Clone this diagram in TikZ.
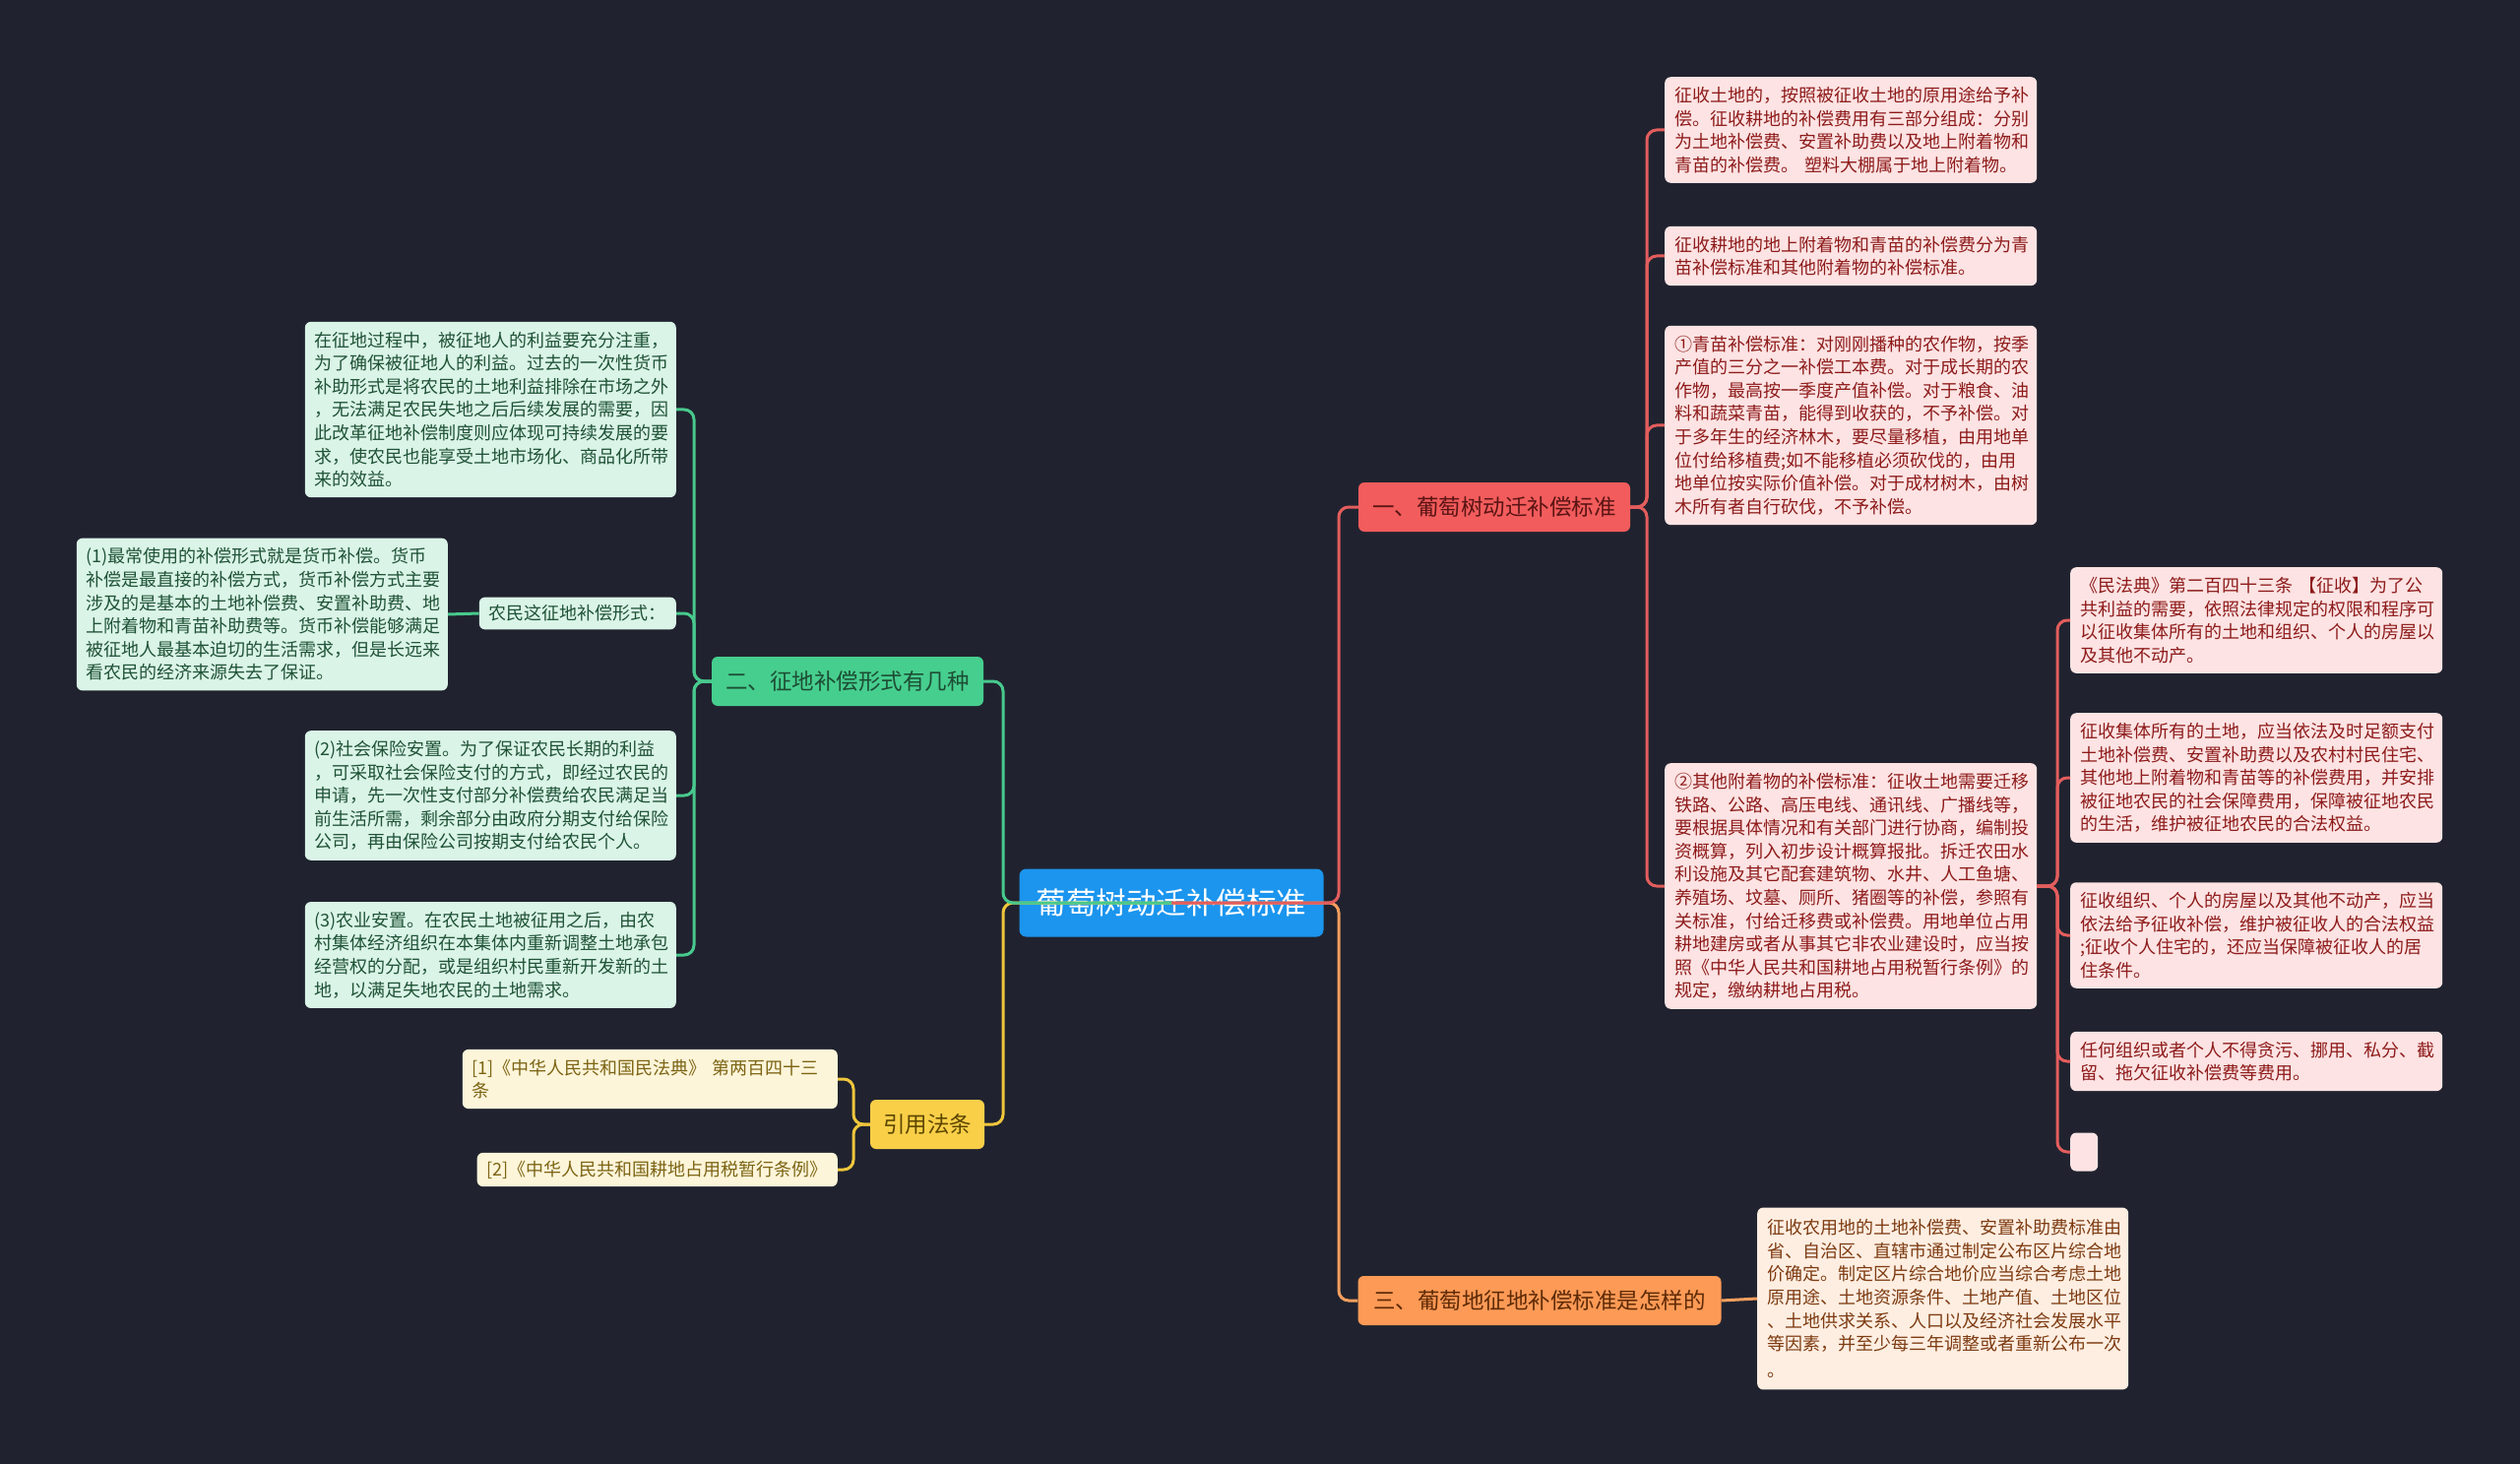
\documentclass[tikz,border=0pt]{standalone}
\usepackage{fontspec}
\setmainfont{Noto Sans CJK SC}
\definecolor{bgc}{HTML}{20232F}
\definecolor{rootc}{HTML}{1B95EE}
\definecolor{redm}{HTML}{F25C5C}
\definecolor{redmt}{HTML}{5A1414}
\definecolor{redf}{HTML}{FDE3E3}
\definecolor{redt}{HTML}{8E1B1B}
\definecolor{redl}{HTML}{E35D5D}
\definecolor{grem}{HTML}{46CE8E}
\definecolor{gremt}{HTML}{1D4D34}
\definecolor{gref}{HTML}{DAF4E7}
\definecolor{gret}{HTML}{1F5236}
\definecolor{grel}{HTML}{48C98D}
\definecolor{yelm}{HTML}{F9CF48}
\definecolor{yelmt}{HTML}{5B4500}
\definecolor{yelf}{HTML}{FDF5D9}
\definecolor{yelt}{HTML}{7C6414}
\definecolor{yell}{HTML}{EFC63C}
\definecolor{orm}{HTML}{FD9A56}
\definecolor{ormt}{HTML}{5E2A06}
\definecolor{orf}{HTML}{FEEEE1}
\definecolor{ort}{HTML}{7D3B12}
\definecolor{orl}{HTML}{F59E5E}
\begin{document}
\begin{tikzpicture}[x=1pt, y=-1pt,
    rootbox/.style={rounded corners=7pt, fill=rootc, text=white, minimum width=309pt, minimum height=69pt, font=\fontsize{30.5}{32}\selectfont},
    mainbox/.style={rounded corners=6pt, minimum height=50pt, inner xsep=13pt, font=\fontsize{22.5}{24}\selectfont},
    leaf/.style={rounded corners=6pt, inner xsep=10pt, inner ysep=10pt, align=left, font=\fontsize{18}{23.6}\selectfont},
    redleaf/.style={leaf, fill=redf, text=redt},
    greleaf/.style={leaf, fill=gref, text=gret},
    yelleaf/.style={leaf, fill=yelf, text=yelt},
    orleaf/.style={leaf, fill=orf, text=ort},
    link/.style={line width=3pt, rounded corners=10pt},
    redlink/.style={link, draw=redl},
    grelink/.style={link, draw=grel},
    yellink/.style={link, draw=yell},
    orlink/.style={link, draw=orl}]
    % 1. Nền
    \fill[bgc] (0,0) rectangle (2560,1487);
    \useasboundingbox (0,0) rectangle (2560,1487);

    % 2. Nút gốc và các nhánh chính
    \node[rootbox] (root) at (1190,917) {葡萄树动迁补偿标准};
    \node[mainbox, fill=redm, text=redmt, minimum width=276pt] (yi) at (1518,515) {一、葡萄树动迁补偿标准};
    \node[mainbox, fill=orm, text=ormt, minimum width=369pt] (san) at (1564,1321) {三、葡萄地征地补偿标准是怎样的};
    \node[mainbox, fill=grem, text=gremt, minimum width=276pt] (er) at (861,692) {二、征地补偿形式有几种};
    \node[mainbox, fill=yelm, text=yelmt, minimum width=114pt] (yinyong) at (942,1142) {引用法条};

    % 3. Nhánh một
    \node[redleaf, text width=358pt, anchor=west] (yiA) at (1691,132) {征收土地的，按照被征收土地的原用途给予补\\偿。征收耕地的补偿费用有三部分组成：分别\\为土地补偿费、安置补助费以及地上附着物和\\青苗的补偿费。 塑料大棚属于地上附着物。};
    \node[redleaf, text width=358pt, anchor=west] (yiB) at (1691,260) {征收耕地的地上附着物和青苗的补偿费分为青\\苗补偿标准和其他附着物的补偿标准。};
    \node[redleaf, text width=358pt, anchor=west] (yiC) at (1691,432) {①青苗补偿标准：对刚刚播种的农作物，按季\\产值的三分之一补偿工本费。对于成长期的农\\作物，最高按一季度产值补偿。对于粮食、油\\料和蔬菜青苗，能得到收获的，不予补偿。对\\于多年生的经济林木，要尽量移植，由用地单\\位付给移植费;如不能移植必须砍伐的，由用\\地单位按实际价值补偿。对于成材树木，由树\\木所有者自行砍伐，不予补偿。};
    \node[redleaf, text width=358pt, anchor=west] (yiD) at (1691,900) {②其他附着物的补偿标准：征收土地需要迁移\\铁路、公路、高压电线、通讯线、广播线等，\\要根据具体情况和有关部门进行协商，编制投\\资概算，列入初步设计概算报批。拆迁农田水\\利设施及其它配套建筑物、水井、人工鱼塘、\\养殖场、坟墓、厕所、猪圈等的补偿，参照有\\关标准，付给迁移费或补偿费。用地单位占用\\耕地建房或者从事其它非农业建设时，应当按\\照《中华人民共和国耕地占用税暂行条例》的\\规定，缴纳耕地占用税。};
    \node[redleaf, text width=358pt, anchor=west] (yiD1) at (2103,630) {《民法典》第二百四十三条 【征收】为了公\\共利益的需要，依照法律规定的权限和程序可\\以征收集体所有的土地和组织、个人的房屋以\\及其他不动产。};
    \node[redleaf, text width=358pt, anchor=west] (yiD2) at (2103,790) {征收集体所有的土地，应当依法及时足额支付\\土地补偿费、安置补助费以及农村村民住宅、\\其他地上附着物和青苗等的补偿费用，并安排\\被征地农民的社会保障费用，保障被征地农民\\的生活，维护被征地农民的合法权益。};
    \node[redleaf, text width=358pt, anchor=west] (yiD3) at (2103,950) {征收组织、个人的房屋以及其他不动产，应当\\依法给予征收补偿，维护被征收人的合法权益\\;征收个人住宅的，还应当保障被征收人的居\\住条件。};
    \node[redleaf, text width=358pt, anchor=west] (yiD4) at (2103,1078) {任何组织或者个人不得贪污、挪用、私分、截\\留、拖欠征收补偿费等费用。};
    \node[redleaf, minimum width=28pt, minimum height=39pt, inner sep=0pt, anchor=west] (yiD5) at (2103,1170) {};

    % 4. Nhánh ba
    \node[orleaf, text width=357pt, inner ysep=12pt, anchor=west] (sanA) at (1785,1319) {征收农用地的土地补偿费、安置补助费标准由\\省、自治区、直辖市通过制定公布区片综合地\\价确定。制定区片综合地价应当综合考虑土地\\原用途、土地资源条件、土地产值、土地区位\\、土地供求关系、人口以及经济社会发展水平\\等因素，并至少每三年调整或者重新公布一次\\[3pt]。};

    % 5. Nhánh hai
    \node[greleaf, text width=357pt, anchor=east] (erA) at (687,416) {在征地过程中，被征地人的利益要充分注重，\\为了确保被征地人的利益。过去的一次性货币\\补助形式是将农民的土地利益排除在市场之外\\，无法满足农民失地之后后续发展的需要，因\\此改革征地补偿制度则应体现可持续发展的要\\求，使农民也能享受土地市场化、商品化所带\\来的效益。};
    \node[greleaf, anchor=east, inner ysep=8pt] (erB) at (687,623) {农民这征地补偿形式：};
    \node[greleaf, text width=357pt, anchor=east] (erB1) at (455,624) {(1)最常使用的补偿形式就是货币补偿。货币\\补偿是最直接的补偿方式，货币补偿方式主要\\涉及的是基本的土地补偿费、安置补助费、地\\上附着物和青苗补助费等。货币补偿能够满足\\被征地人最基本迫切的生活需求，但是长远来\\看农民的经济来源失去了保证。};
    \node[greleaf, text width=357pt, anchor=east] (erC) at (687,808) {(2)社会保险安置。为了保证农民长期的利益\\，可采取社会保险支付的方式，即经过农民的\\申请，先一次性支付部分补偿费给农民满足当\\前生活所需，剩余部分由政府分期支付给保险\\公司，再由保险公司按期支付给农民个人。};
    \node[greleaf, text width=357pt, anchor=east] (erD) at (687,970) {(3)农业安置。在农民土地被征用之后，由农\\村集体经济组织在本集体内重新调整土地承包\\经营权的分配，或是组织村民重新开发新的土\\地，以满足失地农民的土地需求。};

    % 6. Nhánh trích dẫn
    \node[yelleaf, text width=361pt, anchor=east] (yyA) at (851,1096) {[1]《中华人民共和国民法典》 第两百四十三\\条};
    \node[yelleaf, anchor=east, inner ysep=8pt] (yyB) at (851,1188) {[2]《中华人民共和国耕地占用税暂行条例》};

    % 7. Đường nối
    \coordinate (rootR) at (1360,917);
    \coordinate (rootL) at (1019,917);
    \coordinate (busYi) at (1673,515);
    \coordinate (busYiD) at (2090,900);
    \coordinate (busEr) at (705,692);
    \coordinate (busYy) at (867,1142);
    \draw[orlink] (root.center) -- (rootR) |- (san.west);
    \draw[redlink] (root.center) -- (rootR) |- (yi.west);
    \draw[yellink] (root.center) -- (rootL) |- (yinyong.east);
    \draw[grelink] (root.center) -- (rootL) |- (er.east);
    \foreach \n in {yiA,yiB,yiC,yiD}
        \draw[redlink] (yi.east) -- (busYi) |- (\n.west);
    \foreach \n in {yiD1,yiD2,yiD3,yiD4,yiD5}
        \draw[redlink] (yiD.east) -- (busYiD) |- (\n.west);
    \foreach \n in {erA,erB,erC,erD}
        \draw[grelink] (er.west) -- (busEr) |- (\n.east);
    \draw[grelink] (erB.west) -- (erB1.east);
    \foreach \n in {yyA,yyB}
        \draw[yellink] (yinyong.west) -- (busYy) |- (\n.east);
    \draw[orlink] (san.east) -- (sanA.west);
\end{tikzpicture}
\end{document}
